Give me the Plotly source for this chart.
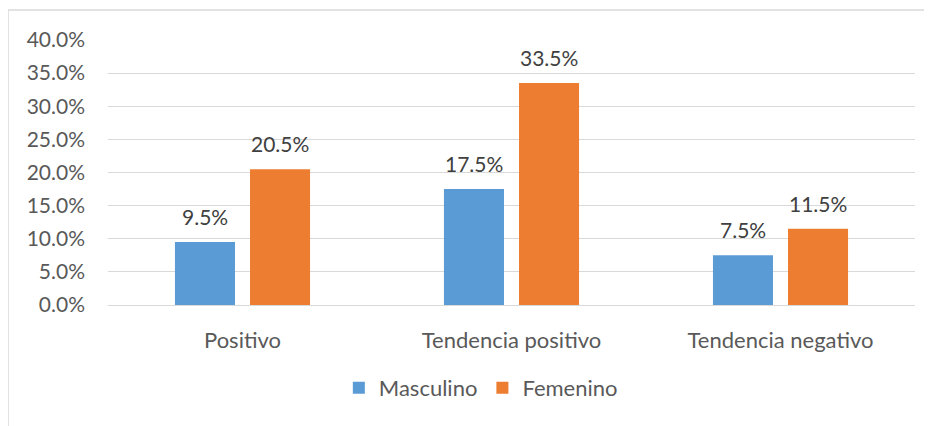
import plotly.graph_objects as go

categories = ["Positivo", "Tendencia positivo", "Tendencia negativo"]
masculino = [9.5, 17.5, 7.5]
femenino = [20.5, 33.5, 11.5]
tick_vals = [0, 5, 10, 15, 20, 25, 30, 35, 40]
tick_text = ["0.0%", "5.0%", "10.0%", "15.0%", "20.0%", "25.0%", "30.0%", "35.0%", "40.0%"]

FONT = "Lato"
GRAY = "#595959"
LABEL = "#404040"
NUM_SIZE = 21
WORD_SIZE = 22

fig = go.Figure()
fig.add_trace(go.Bar(name="Masculino", x=categories, y=masculino,
                     marker=dict(color="#5B9BD5", line=dict(width=0))))
fig.add_trace(go.Bar(name="Femenino", x=categories, y=femenino,
                     marker=dict(color="#ED7D31", line=dict(width=0))))

annotations = []
for series, shift in ((masculino, -37.5), (femenino, 37.5)):
    for c, v in zip(categories, series):
        annotations.append(dict(x=c, y=v, xref="x", yref="y", text=f"{v:.1f}%",
                                showarrow=False, xshift=shift, yshift=11,
                                yanchor="bottom", xanchor="center",
                                font=dict(family=FONT, size=NUM_SIZE, color=LABEL)))

fig.update_layout(
    width=932, height=426,
    margin=dict(l=100, r=25, t=32, b=129),
    paper_bgcolor="white", plot_bgcolor="white",
    barmode="group", bargap=0.442, bargroupgap=0.2,
    font=dict(family=FONT, size=WORD_SIZE, color=GRAY),
    showlegend=True,
    legend=dict(orientation="h", x=0.462, xanchor="center", y=-0.313, yanchor="middle",
                font=dict(family=FONT, size=WORD_SIZE, color=GRAY), itemwidth=30,
                traceorder="normal"),
    xaxis=dict(showgrid=False, showline=True, linecolor="#d9d9d9", linewidth=1,
               ticks="", ticklabelstandoff=16,
               tickfont=dict(family=FONT, size=WORD_SIZE, color=GRAY)),
    yaxis=dict(range=[0, 40], tickvals=tick_vals, ticktext=tick_text,
               showgrid=True, gridcolor="#d9d9d9", gridwidth=1,
               zeroline=False, showline=False, ticks="",
               ticklabelstandoff=22,
               tickfont=dict(family=FONT, size=NUM_SIZE, color=GRAY)),
    annotations=annotations,
    shapes=[dict(type="rect", xref="paper", yref="paper",
                 x0=-100/807, x1=1.2, y0=-0.6, y1=(297-2)/265,
                 line=dict(color="#d9d9d9", width=1.5), fillcolor="rgba(0,0,0,0)", layer="below")],
)

fig.write_html("out.html")
